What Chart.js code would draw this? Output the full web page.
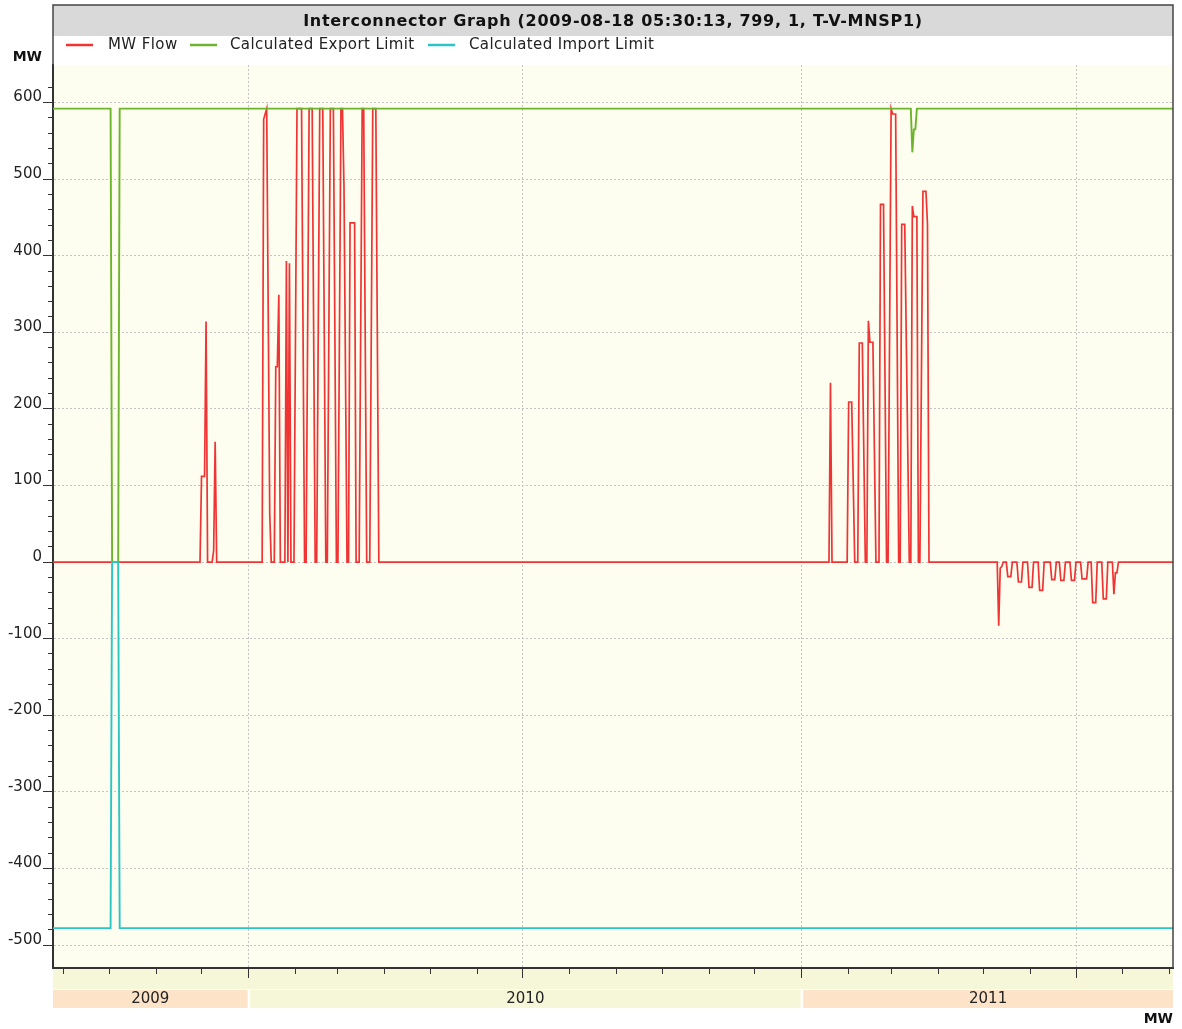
<!DOCTYPE html>
<html>
<head>
<meta charset="utf-8">
<title>Interconnector Graph</title>
<script src="https://cdn.jsdelivr.net/npm/chart.js@4.4.1/dist/chart.umd.min.js"></script>
<style>
  html, body { margin: 0; padding: 0; background: #fff; }
</style>
</head>
<body>
<canvas id="chart" width="1182" height="1029"></canvas>
<script>
var titleText = 'Interconnector Graph (2009-08-18 05:30:13, 799, 1, T-V-MNSP1)';
var seriesNames = ['MW Flow', 'Calculated Export Limit', 'Calculated Import Limit'];
var seriesColors = ['#f03434', '#6cb42c', '#2ac6c6'];
var years = ['2009', '2010', '2011'];
var axisStart = '2009-08-25';
var axisEnd = '2011-09-03';

// MW Flow (turning points only)
var flowDates = [
  '2009-08-25', '2009-11-30', '2009-12-01', '2009-12-03', '2009-12-04', '2009-12-05',
  '2009-12-08', '2009-12-09', '2009-12-10', '2009-12-11',
  '2010-01-10', '2010-01-11', '2010-01-13', '2010-01-15', '2010-01-16',
  '2010-01-18', '2010-01-19', '2010-01-20', '2010-01-21', '2010-01-22',
  '2010-01-25', '2010-01-26', '2010-01-27', '2010-01-28', '2010-01-29',
  '2010-01-31', '2010-02-02', '2010-02-05', '2010-02-07',
  '2010-02-08', '2010-02-10', '2010-02-12', '2010-02-14',
  '2010-02-15', '2010-02-17', '2010-02-19', '2010-02-21',
  '2010-02-22', '2010-02-24', '2010-02-26', '2010-02-28',
  '2010-03-01', '2010-03-03', '2010-03-04', '2010-03-05', '2010-03-07',
  '2010-03-08', '2010-03-09', '2010-03-12', '2010-03-13',
  '2010-03-15', '2010-03-17', '2010-03-18', '2010-03-20',
  '2010-03-22', '2010-03-24', '2010-03-26', '2010-03-28',
  '2011-01-19', '2011-01-20', '2011-01-21',
  '2011-01-31', '2011-02-01', '2011-02-03', '2011-02-05',
  '2011-02-07', '2011-02-08', '2011-02-10', '2011-02-12',
  '2011-02-13', '2011-02-14', '2011-02-15', '2011-02-17', '2011-02-19',
  '2011-02-21', '2011-02-22', '2011-02-24', '2011-02-26',
  '2011-02-27', '2011-03-01', '2011-03-02', '2011-03-04', '2011-03-06',
  '2011-03-07', '2011-03-08', '2011-03-10', '2011-03-13',
  '2011-03-14', '2011-03-15', '2011-03-16', '2011-03-18', '2011-03-19',
  '2011-03-20', '2011-03-22', '2011-03-24', '2011-03-25', '2011-03-26',
  '2011-05-10', '2011-05-11', '2011-05-12', '2011-05-13', '2011-05-14',
  '2011-05-16', '2011-05-17', '2011-05-19', '2011-05-20',
  '2011-05-23', '2011-05-24', '2011-05-26', '2011-05-27',
  '2011-05-30', '2011-05-31', '2011-06-02', '2011-06-03',
  '2011-06-06', '2011-06-07', '2011-06-09', '2011-06-10',
  '2011-06-14', '2011-06-15', '2011-06-17', '2011-06-18',
  '2011-06-20', '2011-06-21', '2011-06-23', '2011-06-24',
  '2011-06-27', '2011-06-28', '2011-06-30', '2011-07-01',
  '2011-07-04', '2011-07-05', '2011-07-08', '2011-07-09',
  '2011-07-11', '2011-07-12', '2011-07-14', '2011-07-15',
  '2011-07-18', '2011-07-19', '2011-07-21', '2011-07-22',
  '2011-07-25', '2011-07-26', '2011-07-27', '2011-07-28', '2011-07-29',
  '2011-09-03'
];
var flowValues = [
  0, 0, 112, 112, 314, 0,
  0, 15, 157, 0,
  0, 578, 592, 64, 0,
  0, 255, 255, 349, 0,
  0, 393, 0, 390, 0,
  0, 592, 592, 0,
  0, 592, 592, 0,
  0, 592, 592, 0,
  0, 592, 592, 0,
  0, 592, 592, 490, 0,
  0, 443, 443, 0,
  0, 592, 592, 0,
  0, 592, 592, 0,
  0, 234, 0,
  0, 209, 209, 0,
  0, 286, 286, 0,
  0, 315, 287, 287, 0,
  0, 467, 467, 0,
  0, 592, 585, 585, 0,
  0, 441, 441, 0,
  0, 465, 451, 451, 0,
  0, 484, 484, 441, 0,
  0, -83, -8, -6, 0,
  0, -19, -19, 0,
  0, -26, -26, 0,
  0, -33, -33, 0,
  0, -37, -37, 0,
  0, -23, -23, 0,
  0, -24, -24, 0,
  0, -24, -24, 0,
  0, -22, -22, 0,
  0, -53, -53, 0,
  0, -48, -48, 0,
  0, -42, -14, -14, 0,
  0
];

// Calculated Export Limit
var exportDates = ['2009-08-25', '2009-10-02', '2009-10-03', '2009-10-07', '2009-10-08',
  '2011-03-14', '2011-03-15', '2011-03-16', '2011-03-17', '2011-03-18', '2011-09-03'];
var exportValues = [592, 592, 0, 0, 592, 592, 535, 565, 565, 592, 592];

// Calculated Import Limit
var importDates = ['2009-08-25', '2009-10-02', '2009-10-03', '2009-10-07', '2009-10-08', '2011-09-03'];
var importValues = [-478, -478, 0, 0, -478, -478];

var DAY = 86400000;
var EPOCH = Date.parse('2010-01-01');
function toDay(s) { return (Date.parse(s) - EPOCH) / DAY; }
function monthOf(v) { return new Date(EPOCH + Math.round(v) * DAY).getUTCMonth(); }
function isHalfYear(v) { return monthOf(v) % 6 === 0; }

function points(dates, values) {
  return dates.map(function (d, i) { return { x: toDay(d), y: values[i] }; });
}

var FONT = '"DejaVu Sans", Verdana, sans-serif';

var chrome = {
  id: 'chrome',
  beforeDraw: function (chart) {
    var ctx = chart.ctx, a = chart.chartArea, xs = chart.scales.x;
    ctx.save();
    // plot background
    ctx.fillStyle = '#fefef0';
    ctx.fillRect(a.left, a.top, a.right - a.left, a.bottom - a.top);
    // title bar
    ctx.fillStyle = '#d9d9d9';
    ctx.fillRect(a.left, 5, a.right - a.left, 31);
    // band under the time axis
    ctx.fillStyle = '#f6f6d8';
    ctx.fillRect(a.left, a.bottom, a.right - a.left, 21);
    // year boxes
    var edges = [a.left];
    years.slice(1).forEach(function (y) { edges.push(xs.getPixelForValue(toDay(y + '-01-01'))); });
    edges.push(a.right);
    for (var i = 0; i < years.length; i++) {
      var l = edges[i] + (i > 0 ? 1.5 : 0);
      var r = edges[i + 1] - (i < years.length - 1 ? 1 : 0);
      ctx.fillStyle = i % 2 === 0 ? '#fde3c8' : '#f6f6d8';
      ctx.fillRect(l, 990, r - l, 18);
      ctx.fillStyle = '#222';
      ctx.font = '15px ' + FONT;
      ctx.textAlign = 'center';
      ctx.textBaseline = 'middle';
      ctx.fillText(years[i], (l + r) / 2, 999.5);
    }
    ctx.restore();
  },
  afterDraw: function (chart) {
    var ctx = chart.ctx, a = chart.chartArea;
    ctx.save();
    // frame
    ctx.strokeStyle = '#444';
    ctx.lineWidth = 1.5;
    ctx.beginPath();
    ctx.moveTo(a.left, a.top);
    ctx.lineTo(a.left, 5);
    ctx.lineTo(a.right, 5);
    ctx.lineTo(a.right, a.bottom);
    ctx.stroke();
    // title
    ctx.fillStyle = '#111';
    ctx.font = 'bold 16px ' + FONT;
    ctx.letterSpacing = '0.7px';
    ctx.textAlign = 'center';
    ctx.textBaseline = 'middle';
    ctx.fillText(titleText, (a.left + a.right) / 2, 22);
    // legend
    var lineX = [66, 190, 428], textX = [108, 230, 469];
    ctx.font = '15px ' + FONT;
    ctx.letterSpacing = '0.4px';
    ctx.textAlign = 'left';
    for (var i = 0; i < seriesNames.length; i++) {
      ctx.strokeStyle = seriesColors[i];
      ctx.lineWidth = 2.5;
      ctx.beginPath();
      ctx.moveTo(lineX[i], 45);
      ctx.lineTo(lineX[i] + 27, 45);
      ctx.stroke();
      ctx.fillStyle = '#222';
      ctx.fillText(seriesNames[i], textX[i], 45.5);
    }
    // unit labels
    ctx.letterSpacing = '0px';
    ctx.font = 'bold 14px ' + FONT;
    ctx.textAlign = 'right';
    ctx.fillStyle = '#111';
    ctx.fillText('MW', 42, 57);
    ctx.fillText('MW', a.right, 1019);
    ctx.restore();
  }
};

var ctx = document.getElementById('chart').getContext('2d');
var chart = new Chart(ctx, {
  type: 'line',
  data: {
    datasets: [{
      label: seriesNames[0],
      data: points(flowDates, flowValues),
      borderColor: seriesColors[0],
      borderWidth: 1.7,
      order: 3
    }, {
      label: seriesNames[1],
      data: points(exportDates, exportValues),
      borderColor: seriesColors[1],
      borderWidth: 1.9,
      order: 2
    }, {
      label: seriesNames[2],
      data: points(importDates, importValues),
      borderColor: seriesColors[2],
      borderWidth: 1.9,
      order: 1
    }]
  },
  options: {
    responsive: false,
    animation: false,
    layout: { padding: { top: 65, right: 9, left: 0, bottom: 0 } },
    elements: { point: { radius: 0 }, line: { tension: 0, fill: false } },
    scales: {
      x: {
        type: 'linear',
        min: toDay(axisStart),
        max: toDay(axisEnd),
        afterBuildTicks: function (scale) {
          var ticks = [];
          for (var y = 2009; y <= 2011; y++) {
            for (var m = 0; m < 12; m++) {
              var v = (Date.UTC(y, m, 1) - EPOCH) / DAY;
              if (v >= scale.min && v <= scale.max) ticks.push({ value: v });
            }
          }
          scale.ticks = ticks;
        },
        afterFit: function (scale) { scale.height = 61; },
        ticks: { display: false },
        grid: {
          color: function (c) { return c.tick && isHalfYear(c.tick.value) ? '#c4c4c4' : 'rgba(0,0,0,0)'; },
          tickColor: '#333',
          tickWidth: 1,
          tickLength: 10,
          tickBorderDash: function (c) { return c.tick && isHalfYear(c.tick.value) ? [] : [5, 50]; }
        },
        border: { color: '#333', width: 2, dash: [2, 2] }
      },
      y: {
        min: -530,
        max: 649,
        afterBuildTicks: function (scale) {
          scale.ticks = scale.ticks.filter(function (t) { return t.value % 20 === 0; });
        },
        afterFit: function (scale) { scale.width = 53; },
        ticks: {
          stepSize: 20,
          autoSkip: false,
          padding: 1,
          labelOffset: -5,
          color: '#222',
          font: { family: FONT, size: 15 },
          callback: function (value) { return value % 100 === 0 ? String(value) : ''; }
        },
        grid: {
          color: function (c) { return c.tick && c.tick.value % 100 === 0 ? '#c4c4c4' : 'rgba(0,0,0,0)'; },
          tickColor: '#333',
          tickWidth: 1,
          tickLength: 10,
          tickBorderDash: function (c) { return c.tick && c.tick.value % 100 === 0 ? [] : [0, 5, 5, 50]; }
        },
        border: { color: '#333', width: 2, dash: [2, 2] }
      }
    },
    plugins: {
      legend: { display: false },
      title: { display: false },
      tooltip: { enabled: false }
    }
  },
  plugins: [chrome]
});
</script>
</body>
</html>
